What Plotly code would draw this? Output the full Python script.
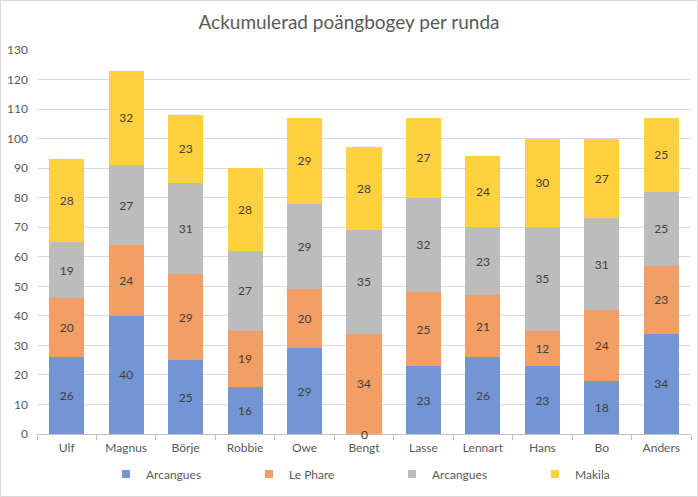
import plotly.graph_objects as go

categories = ["Ulf", "Magnus", "Börje", "Robbie", "Owe", "Bengt", "Lasse", "Lennart", "Hans", "Bo", "Anders"]
series_names = ["Arcangues", "Le Phare", "Arcangues", "Makila"]
arcangues1 = [26, 40, 25, 16, 29, 0, 23, 26, 23, 18, 34]
le_phare = [20, 24, 29, 19, 20, 34, 25, 21, 12, 24, 23]
arcangues2 = [19, 27, 31, 27, 29, 35, 32, 23, 35, 31, 25]
makila = [28, 32, 23, 28, 29, 28, 27, 24, 30, 27, 25]
series_values = [arcangues1, le_phare, arcangues2, makila]
colors = ["#7395D3", "#F29E65", "#BCBCBC", "#FFD040"]
y_ticks = list(range(0, 131, 10))

FONT = "Lato"
fig = go.Figure()
for name, vals, col in zip(series_names, series_values, colors):
    fig.add_trace(go.Bar(
        x=categories, y=vals, name=name, showlegend=False,
        marker=dict(color=col, line=dict(width=0)),
        text=[str(v) if v != 0 else "" for v in vals],
        textposition="inside", insidetextanchor="middle",
        textangle=0, constraintext="none",
        textfont=dict(family=FONT, size=12, color="#404040"),
        hoverinfo="skip",
    ))
# legend entries with small square swatches
for name, col in zip(series_names, colors):
    fig.add_trace(go.Scatter(
        x=[None], y=[None], mode="markers", name=name,
        marker=dict(symbol="square", size=8, color=col), hoverinfo="skip",
    ))

# labels for zero-valued segments
annotations = []
for k, vals in enumerate(series_values):
    for i, v in enumerate(vals):
        if v == 0:
            base = sum(sv[i] for sv in series_values[:k])
            annotations.append(dict(x=categories[i], y=base, text="0", showarrow=False,
                                    font=dict(family=FONT, size=12, color="#404040"),
                                    xref="x", yref="y", yanchor="middle"))

W, H = 698, 497
L, R, T, B = 37, 7, 50, 63
pw, ph = W - L - R, H - T - B

fig.update_layout(
    width=W, height=H,
    margin=dict(l=L, r=R, t=T, b=B, pad=0, autoexpand=False),
    barmode="stack", bargap=0.41,
    plot_bgcolor="white", paper_bgcolor="white",
    title=dict(text="Ackumulerad poängbogey per runda", x=0.5, xanchor="center",
               y=1 - 22 / H, yanchor="middle", yref="container",
               font=dict(family=FONT, size=19, color="#595959")),
    font=dict(family=FONT, size=12, color="#595959"),
    xaxis=dict(showgrid=False, showline=True, linecolor="#BFBFBF", linewidth=1,
               ticks="outside", tickson="boundaries", ticklen=5, tickcolor="#BFBFBF",
               automargin=False, ticklabelstandoff=3,
               tickfont=dict(family=FONT, size=12, color="#595959")),
    yaxis=dict(range=[0, 130], tickvals=y_ticks, showgrid=True, gridcolor="#D9D9D9",
               gridwidth=1, zeroline=False, showline=False, ticks="",
               ticklabelstandoff=8, automargin=False,
               tickfont=dict(family=FONT, size=12, color="#595959")),
    legend=dict(orientation="h", x=106 / W, xanchor="left", xref="container",
                y=1 - 474 / H, yref="container",
                yanchor="middle", entrywidth=98, itemwidth=30,
                font=dict(family=FONT, size=12, color="#595959"), traceorder="normal"),
    annotations=annotations,
    shapes=[dict(type="rect", xref="paper", yref="paper",
                 x0=(0.5 - L) / pw, x1=(W - 0.5 - L) / pw,
                 y0=(H - B - (H - 0.5)) / ph, y1=(H - B - 0.5) / ph,
                 line=dict(color="#D9D9D9", width=1), layer="below")],
)
fig.write_html("out.html", config={"displayModeBar": False},
               post_script="document.body.style.margin='0';document.body.style.overflow='hidden';")
